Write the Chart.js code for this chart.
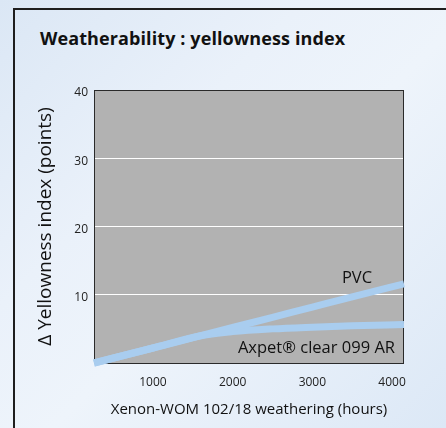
<!DOCTYPE html>
<html>
<head>
<meta charset="utf-8">
<script src="https://cdn.jsdelivr.net/npm/chart.js@4"></script>
<style>
  html, body { margin: 0; padding: 0; }
  body {
    width: 446px; height: 428px; overflow: hidden; position: relative;
    background: linear-gradient(135deg, #dbe7f5 0%, #eaf1fa 35%, #eef4fb 55%, #dce8f6 100%);
    font-family: "Open Sans", sans-serif;
  }
  #frame {
    position: absolute; left: 13px; top: 8px; width: 480px; height: 480px;
    border: 2px solid #1e1e1e; box-sizing: border-box;
  }
  #title {
    position: absolute; left: 40px; top: 26px;
    font-size: 18px; font-weight: bold; color: #111; letter-spacing: 0.1px;
  }
  #chart { position: absolute; left: 0; top: 0; }
</style>
</head>
<body>
<div id="frame"></div>
<div id="title">Weatherability : yellowness index</div>
<canvas id="chart" width="446" height="428"></canvas>
<script>
// hours of weathering
const horas = [260, 1000, 1600, 2000, 2500, 3000, 3500, 4150];
const pvc = [0, 2.2, 4.0, 5.2, 6.7, 8.2, 9.7, 11.6];
const axpet = [0, 2.2, 4.0, 4.6, 5.0, 5.25, 5.45, 5.65];
const ticksX = [1000, 2000, 3000, 4000];
const ticksY = [10, 20, 30, 40];
const etiquetas = [
    { texto: 'PVC', x: 3560, y: 12.45, align: 'center' },
    { texto: 'Axpet\u00ae clear 099 AR', x: 4037, y: 2.2, align: 'right' }
];

const azul = '#a9cdef';

function puntos(valores) {
    return horas.map((h, i) => ({ x: h, y: valores[i] }));
}

const fondoPlot = {
    id: 'fondoPlot',
    beforeDraw(chart) {
        const { ctx, chartArea: a } = chart;
        ctx.save();
        ctx.fillStyle = '#b2b2b2';
        ctx.fillRect(a.left, a.top, a.right - a.left, a.bottom - a.top);
        ctx.restore();
    },
    beforeDatasetsDraw(chart) {
        const { ctx, chartArea: a } = chart;
        ctx.save();
        ctx.strokeStyle = '#2a2a2a';
        ctx.lineWidth = 1;
        ctx.strokeRect(a.left + 0.5, a.top + 0.5, a.right - a.left - 1, a.bottom - a.top);
        ctx.restore();
    },
    afterDatasetsDraw(chart) {
        const { ctx, scales } = chart;
        ctx.save();
        ctx.fillStyle = '#111';
        ctx.font = '16.5px "Open Sans"';
        ctx.textBaseline = 'middle';
        etiquetas.forEach(e => {
            ctx.textAlign = e.align;
            ctx.fillText(e.texto, scales.x.getPixelForValue(e.x), scales.y.getPixelForValue(e.y));
        });
        ctx.restore();
    }
};

const ctx = document.getElementById('chart').getContext('2d');
const grafico = new Chart(ctx, {
    type: 'scatter',
    data: {
        datasets: [
            { label: 'PVC', data: puntos(pvc) },
            { label: 'Axpet clear 099 AR', data: puntos(axpet) }
        ].map(d => Object.assign(d, {
            showLine: true,
            borderColor: azul,
            borderWidth: 7,
            pointRadius: 0,
            tension: 0.3,
            cubicInterpolationMode: 'monotone',
            clip: 8
        }))
    },
    options: {
        responsive: false,
        animation: false,
        layout: { padding: { left: 30, top: 90, right: 42, bottom: 0 } },
        plugins: { legend: { display: false }, tooltip: { enabled: false } },
        scales: {
            x: {
                type: 'linear',
                min: 260,
                max: 4150,
                afterFit: s => { s.height = 65; },
                afterBuildTicks: s => { s.ticks = ticksX.map(v => ({ value: v })); },
                grid: { display: false, drawTicks: false },
                border: { display: false },
                ticks: {
                    padding: 12, color: '#222', font: { family: 'Open Sans', size: 12 },
                    callback: v => String(v)
                },
                title: {
                    display: true,
                    text: 'Xenon-WOM 102/18 weathering (hours)',
                    color: '#111',
                    font: { family: 'Open Sans', size: 15 },
                    padding: { top: 0, bottom: 9 }
                }
            },
            y: {
                min: 0,
                max: 40,
                afterFit: s => { s.width = 64; },
                afterBuildTicks: s => { s.ticks = ticksY.map(v => ({ value: v })); },
                grid: {
                    drawTicks: false,
                    color: c => (c.tick && c.tick.value > 0 && c.tick.value < 40) ? '#ffffff' : 'rgba(0,0,0,0)',
                    lineWidth: 1
                },
                border: { display: false },
                ticks: { padding: 6, labelOffset: 3, color: '#222', font: { family: 'Open Sans', size: 12 } },
                title: {
                    display: true,
                    text: '\u0394 Yellowness index (points)',
                    color: '#111',
                    font: { family: 'Open Sans', size: 19 },
                    padding: { top: 4, bottom: 0 }
                }
            }
        }
    },
    plugins: [fondoPlot]
});
</script>
</body>
</html>
